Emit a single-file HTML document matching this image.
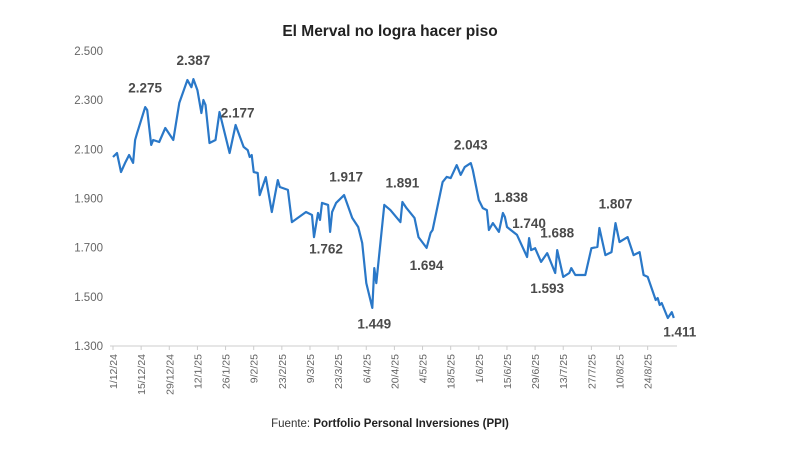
<!DOCTYPE html>
<html><head><meta charset="utf-8"><style>
html,body{margin:0;padding:0;background:#fff;}
svg{display:block;font-family:"Liberation Sans",sans-serif;}
</style></head><body>
<svg id="chart" width="800" height="453" viewBox="0 0 800 453">
<rect width="800" height="453" fill="#fff"/>
<text x="390" y="36" text-anchor="middle" font-size="15.5" font-weight="bold" fill="#222">El Merval no logra hacer piso</text>
<g id="yaxis"></g>
<g id="xaxis"></g>
<g id="series"></g>
<g id="ann"></g>
<text x="390" y="427" text-anchor="middle" font-size="11.5" fill="#333">Fuente: <tspan font-weight="bold" fill="#222">Portfolio Personal Inversiones (PPI)</tspan></text>
</svg>
<script>
const days=[0,2,4,6,8,10,11,12,16,17,19,20,23,26,30,33,37,39,40,42,44,45,46,48,51,53,54,58,61,65,67,68,69,70,72,73,76,79,82,83,87,89,96,99,100,102,103,104,107,108,109,111,115,119,122,124,126,129,130,131,135,138,143,144,146,150,152,156,158,159,164,166,168,171,173,175,178,179,182,184,186,187,189,192,194,195,196,201,206,207,208,210,213,216,220,221,224,227,228,230,235,238,241,242,245,248,250,252,256,259,262,264,266,270,271,272,273,276,278,279];
const values=[2069,2085,2008,2045,2077,2045,2138,2166,2272,2260,2118,2138,2130,2187,2138,2289,2382,2353,2386,2341,2248,2301,2281,2126,2138,2252,2219,2085,2199,2110,2097,2069,2077,2008,2004,1914,1987,1845,1975,1947,1935,1804,1845,1833,1743,1841,1813,1882,1874,1764,1845,1882,1914,1821,1784,1719,1556,1455,1617,1556,1874,1853,1804,1886,1861,1821,1743,1699,1760,1772,1967,1988,1983,2036,1996,2028,2044,2016,1894,1861,1853,1772,1800,1764,1841,1825,1784,1752,1662,1739,1690,1698,1642,1678,1597,1690,1581,1597,1617,1589,1589,1698,1703,1780,1670,1682,1800,1723,1743,1670,1682,1589,1581,1487,1495,1467,1475,1414,1438,1414];
const yTicks=[1300,1500,1700,1900,2100,2300,2500];
const yTickLabels=["1.300","1.500","1.700","1.900","2.100","2.300","2.500"];
const xTickDays=[0,14,28,42,56,70,84,98,112,126,140,154,168,182,196,210,224,238,252,266];
const xTickLabels=["1/12/24","15/12/24","29/12/24","12/1/25","26/1/25","9/2/25","23/2/25","9/3/25","23/3/25","6/4/25","20/4/25","4/5/25","18/5/25","1/6/25","15/6/25","29/6/25","13/7/25","27/7/25","10/8/25","24/8/25"];
const annLabels=["2.275","2.387","2.177","1.917","1.762","1.891","1.449","1.694","2.043","1.838","1.740","1.688","1.593","1.807","1.411"];
const annDays=[16,40,62,116,106,144,130,156,178,198,207,221,216,250,282];
const annValues=[2275,2387,2177,1917,1762,1891,1449,1694,2043,1838,1740,1688,1593,1807,1411];
const annOffsets=[-14,-14,-13,-13,21,-13,19,21,-14,-12,-10,-13,19,-13,18];

const NS="http://www.w3.org/2000/svg";
const X=d=>113+d*2.01;
const Y=v=>346-(v-1300)*0.2458;
function mk(tag,attrs,parent){const e=document.createElementNS(NS,tag);for(const k in attrs)e.setAttribute(k,attrs[k]);parent.appendChild(e);return e;}
const ya=document.getElementById('yaxis'),xa=document.getElementById('xaxis'),se=document.getElementById('series'),an=document.getElementById('ann');
yTicks.forEach((v,i)=>{const t=mk('text',{x:103,y:Y(v)+4,'text-anchor':'end','font-size':11.5,fill:'#666'},ya);t.textContent=yTickLabels[i];

});
const ax=mk('line',{x1:110,x2:677,y1:346,y2:346,stroke:'#ccc','stroke-width':1},xa);


xTickDays.forEach((d,i)=>{const x=X(d);
const tk=mk('line',{x1:x,x2:x,y1:346,y2:350,stroke:'#ccc'},xa);


const t=mk('text',{x:0,y:0,'text-anchor':'end','font-size':10.5,fill:'#666',transform:`translate(${x+4},354) rotate(-90)`},xa);t.textContent=xTickLabels[i];

});
const p=mk('path',{d:days.map((d,i)=>(i?'L':'M')+X(d).toFixed(1)+' '+Y(values[i]).toFixed(1)).join(''),fill:'none',stroke:'#2a78c8','stroke-width':2.2,'stroke-linejoin':'round'},se);


annLabels.forEach((l,i)=>{const t=mk('text',{x:X(annDays[i]),y:Y(annValues[i])+annOffsets[i],'text-anchor':'middle','font-size':13.5,'font-weight':'bold',fill:'#4a4a4a'},an);t.textContent=l;

});
</script>
</body></html>
